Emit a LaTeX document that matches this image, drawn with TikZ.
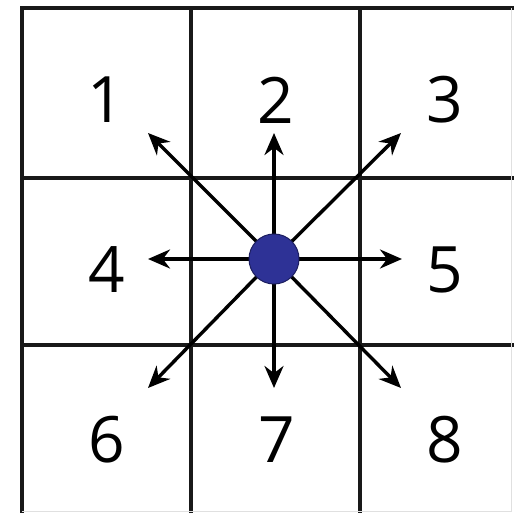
\documentclass[tikz,border=0pt]{standalone}
\usepackage{fontspec}
\setmainfont{Open Sans}
\usetikzlibrary{arrows.meta}
\definecolor{dotblue}{RGB}{46,50,150}
\definecolor{dotedge}{RGB}{28,30,95}

\begin{document}
\begin{tikzpicture}[x=1pt, y=-1pt,
  gridline/.style={line width=3.2pt, black!90},
  faintline/.style={line width=1pt, black!12},
  arrow/.style={-{Stealth[length=22pt, width=19pt]}, line width=3.4pt},
  num/.style={font=\fontsize{64}{64}\selectfont, inner sep=0pt},
  dot/.style={circle, fill=dotblue, draw=dotedge, line width=1pt, minimum size=50pt, inner sep=0pt}
]
  \useasboundingbox (0,0) rectangle (514,513);

  % grid
  \draw[gridline] (22,513) -- (22,8) -- (514,8);
  \draw[gridline] (191,8) -- (191,513);
  \draw[gridline] (360,8) -- (360,513);
  \draw[gridline] (22,178) -- (514,178);
  \draw[gridline] (22,345) -- (514,345);
  \draw[faintline] (511,8) -- (511,511) -- (22,511);

  % labels
  \node[num] (l1) at (106,100) {1};
  \node[num] (l2) at (276,100) {2};
  \node[num] (l3) at (445,100) {3};
  \node[num] (l4) at (107,270) {4};
  \node[num] (l5) at (445,270) {5};
  \node[num] (l6) at (107,440) {6};
  \node[num] (l7) at (277,440) {7};
  \node[num] (l8) at (445,440) {8};

  % arrow tips
  \coordinate (t1) at (148,133);
  \coordinate (t2) at (274,133);
  \coordinate (t3) at (401,133);
  \coordinate (t4) at (148,259);
  \coordinate (t5) at (402,259);
  \coordinate (t6) at (148,388);
  \coordinate (t7) at (274,388);
  \coordinate (t8) at (401,388);

  \coordinate (c0) at (274,259);
  \draw[arrow] (c0) -- (t1);
  \draw[arrow] (c0) -- (t2);
  \draw[arrow] (c0) -- (t3);
  \draw[arrow] (c0) -- (t4);
  \draw[arrow] (c0) -- (t5);
  \draw[arrow] (c0) -- (t6);
  \draw[arrow] (c0) -- (t7);
  \draw[arrow] (c0) -- (t8);

  \node[dot] (c) at (c0) {};
\end{tikzpicture}
\end{document}
